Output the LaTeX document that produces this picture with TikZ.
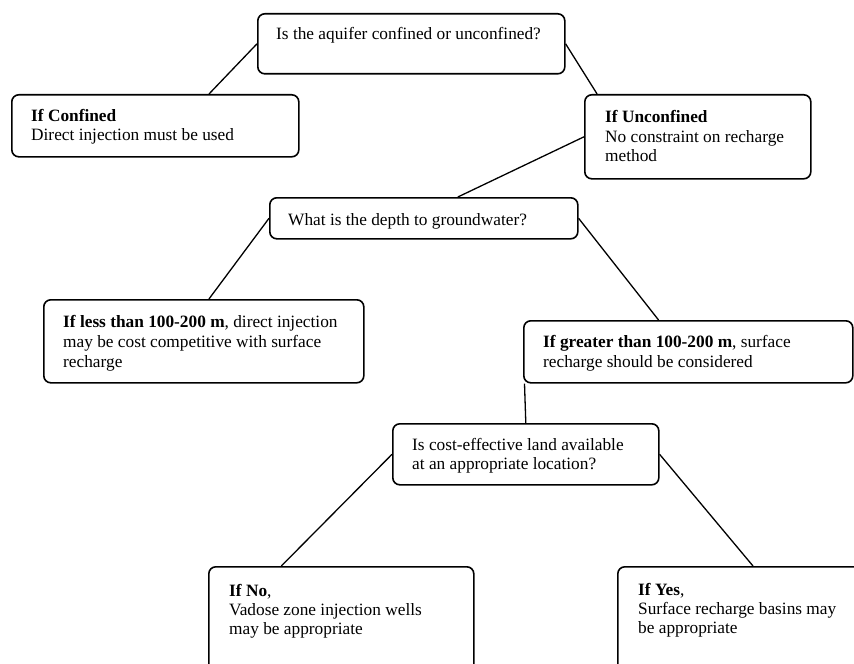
\documentclass[tikz,border=0pt]{standalone}
\usepackage{fontspec}
\setmainfont{Liberation Serif}
\usetikzlibrary{calc}
\tikzset{
  box/.style={draw=black, line width=1.6bp, rounded corners=7bp, fill=white, inner sep=0pt, anchor=north west},
  txt/.style={inner sep=0pt, anchor=base west, font=\fontsize{17.3bp}{19.5bp}\selectfont},
  link/.style={draw=black, line width=1.3bp}
}
\begin{document}
\begin{tikzpicture}[x=1bp, y=-1bp]
\useasboundingbox (0,0) rectangle (854,664);
\fill[white] (0,0) rectangle (854,664);
\begin{scope}
\clip (0,0) rectangle (854,664);
% boxes
\node[box, minimum width=307bp, minimum height=60bp] (top) at (257,13) {};
\node[box, minimum width=287bp, minimum height=62bp] (conf) at (11,94) {};
\node[box, minimum width=226bp, minimum height=84bp] (unc) at (584,94) {};
\node[box, minimum width=308bp, minimum height=41bp] (depth) at (269,197) {};
\node[box, minimum width=320bp, minimum height=83bp] (less) at (43,299) {};
\node[box, minimum width=329bp, minimum height=62bp] (greater) at (523,320) {};
\node[box, minimum width=266bp, minimum height=61bp] (land) at (392,423) {};
\node[box, minimum width=265bp, minimum height=130bp] (no) at (208,566) {};
\node[box, minimum width=300bp, minimum height=130bp] (yes) at (617,566) {};
% connectors
\draw[link] (top.west) -- ($(conf.north west)!0.686!(conf.north east)$);
\draw[link] (top.east) -- ($(unc.north west)!0.0575!(unc.north east)$);
\draw[link] (unc.west) -- ($(depth.north west)!0.61!(depth.north east)$);
\draw[link] (depth.west) -- ($(less.north west)!0.516!(less.north east)$);
\draw[link] (depth.east) -- ($(greater.north west)!0.41!(greater.north east)$);
\coordinate (gfoot) at ($(greater.south west)+(1.5,0)$);
\draw[link] (gfoot) -- (land.north);
\draw[link] (land.west) -- ($(no.north west)!0.275!(no.north east)$);
\draw[link] (land.east) -- ($(yes.north west)+(136,0)$);
% texts
\node[txt] (topt) at (276,39.5) {Is the aquifer confined or unconfined?};
\node[txt] (conf1) at (31,122) {\textbf{If Confined}};
\node[txt] (conf2) at (31,141) {Direct injection must be used};
\node[txt] (unc1) at (605,123) {\textbf{If Unconfined}};
\node[txt] (unc2) at (605,142.5) {No constraint on recharge};
\node[txt] (unc3) at (605,162) {method};
\node[txt] (deptht) at (288,225) {What is the depth to groundwater?};
\node[txt] (less1) at (63,327) {\textbf{If less than 100-200 m}, direct injection};
\node[txt] (less2) at (63,347) {may be cost competitive with surface};
\node[txt] (less3) at (63,367) {recharge};
\node[txt] (gr1) at (543,347) {\textbf{If greater than 100-200 m}, surface};
\node[txt] (gr2) at (543,367) {recharge should be considered};
\node[txt] (land1) at (412,450) {Is cost-effective land available};
\node[txt] (land2) at (412,469.5) {at an appropriate location?};
\node[txt] (no1) at (229,596) {\textbf{If No},};
\node[txt] (no2) at (229,615) {Vadose zone injection wells};
\node[txt] (no3) at (229,634) {may be appropriate};
\node[txt] (yes1) at (638,595) {\textbf{If Yes},};
\node[txt] (yes2) at (638,614) {Surface recharge basins may};
\node[txt] (yes3) at (638,633) {be appropriate};
\end{scope}
\end{tikzpicture}
\end{document}
